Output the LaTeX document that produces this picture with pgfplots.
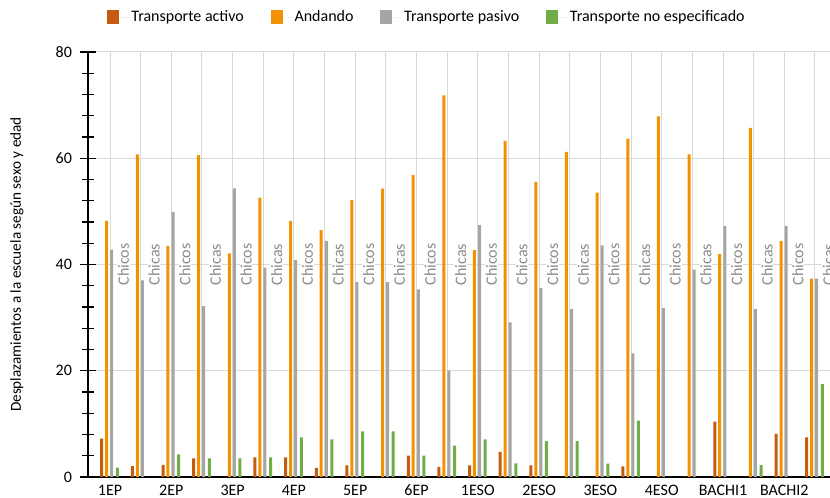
\documentclass[border=0pt]{standalone}
\usepackage{fontspec}
\setmainfont{Carlito}
\usepackage{pgfplots}
\usepackage{pgfplotstable}
\pgfplotsset{compat=1.18}
\definecolor{cbrown}{HTML}{C55A11}
\definecolor{corange}{HTML}{F39200}
\definecolor{cgray}{HTML}{A5A5A5}
\definecolor{cgreen}{HTML}{70AD47}
\definecolor{cgrid}{HTML}{D9D9D9}
\definecolor{clabel}{HTML}{8C8C8C}

\pgfplotstableread{
i  brown orange gray  green
0  7.2   48.2   42.8  1.75
1  2.05  60.75  37.0  0
2  2.3   43.5   49.9  4.25
3  3.5   60.6   32.15 3.5
4  0     42.07  54.35 3.5
5  3.7   52.6   39.4  3.7
6  3.7   48.15  40.8  7.45
7  1.7   46.45  44.45 7.1
8  2.2   52.1   36.7  8.6
9  0     54.3   36.7  8.6
10 4.0   56.8   35.3  4.0
11 1.9   71.85  20.0  5.9
12 2.2   42.7   47.4  7.1
13 4.75  63.25  29.1  2.55
14 2.2   55.55  35.6  6.75
15 0     61.2   31.6  6.75
16 0     53.55  43.6  2.5
17 2.0   63.7   23.25 10.6
18 0     67.9   31.85 0
19 0     60.75  39.05 0
20 10.4  41.95  47.2  0
21 0     65.7   31.6  2.25
22 8.1   44.45  47.2  0
23 7.45  37.35  37.35 17.5
}\datatable

\begin{document}
\begin{tikzpicture}
\begin{axis}[
  at={(0pt,0pt)}, anchor=south west,
  scale only axis, width=556.5pt, height=318.75pt,
  xmin=-0.718, xmax=23.49, ymin=0, ymax=80,
  enlargelimits=false,
  ybar, bar width=2.25pt,
  axis lines*=left,
  axis line style={black, line width=1pt},
  xtick={0,2,...,22},
  minor xtick={1,3,...,23},
  xticklabels={1EP,2EP,3EP,4EP,5EP,6EP,1ESO,2ESO,3ESO,4ESO,BACHI1,BACHI2},
  xtick style={draw=none},
  minor x tick style={draw=none},
  ytick={0,20,40,60,80},
  minor y tick num=4,
  tick align=center,
  major tick length=12pt,
  minor tick length=9pt,
  ytick style={black, line width=0.9pt},
  minor y tick style={black, line width=0.9pt},
  xmajorgrids, xminorgrids, ymajorgrids,
  major grid style={cgrid, line width=0.75pt},
  minor x grid style={cgrid, line width=0.75pt},
  tick label style={font=\fontsize{12}{14}\selectfont},
  /pgf/number format/assume math mode=true,
  yticklabel style={xshift=-2.5pt},
  xticklabel style={anchor=base, yshift=-8pt, inner sep=0pt},
  ylabel={Desplazamientos a la escuela según sexo y edad},
  ylabel style={at={(axis description cs:-0.0957,0.5)}, anchor=center, font=\fontsize{11.4}{13}\selectfont},
  legend style={at={(axis description cs:0.4574,1.082)}, anchor=center, draw=none,
    legend columns=4, font=\fontsize{12}{14}\selectfont,
    /tikz/every even column/.append style={column sep=18pt}},
  legend image code/.code={\path (0pt,0pt) -- (16pt,0pt); \fill[#1] (0pt,-5pt) rectangle (9pt,5.5pt);},
]
\addplot[fill=cbrown, draw=none, bar shift=-6.2pt] table[x=i, y=brown] {\datatable};
\addlegendentry{Transporte activo}
\addplot[fill=corange, draw=none, bar shift=-2.5pt] table[x=i, y=orange] {\datatable};
\addlegendentry{Andando}
\addplot[fill=cgray, draw=none, bar shift=1.3pt] table[x=i, y=gray] {\datatable};
\addlegendentry{Transporte pasivo}
\addplot[fill=cgreen, draw=none, bar shift=5.5pt] table[x=i, y=green] {\datatable};
\addlegendentry{Transporte no especificado}
\pgfplotsinvokeforeach{0.44,2.44,4.44,6.44,8.44,10.44,12.44,14.44,16.44,18.44,20.44,22.44}{
  \node[rotate=90, fill=white, inner sep=0.5pt, text=clabel, font=\fontsize{12}{14}\selectfont] at (axis cs:#1,40) {Chicos};
}
\pgfplotsinvokeforeach{1.44,3.44,5.44,7.44,9.44,11.44,13.44,15.44,17.44,19.44,21.44,23.44}{
  \node[rotate=90, fill=white, inner sep=0.5pt, text=clabel, font=\fontsize{12}{14}\selectfont] at (axis cs:#1,40) {Chicas};
}
\end{axis}
\pgfresetboundingbox
\useasboundingbox (-66pt,-15.75pt) rectangle (556.5pt,357.75pt);
\end{tikzpicture}
\end{document}
